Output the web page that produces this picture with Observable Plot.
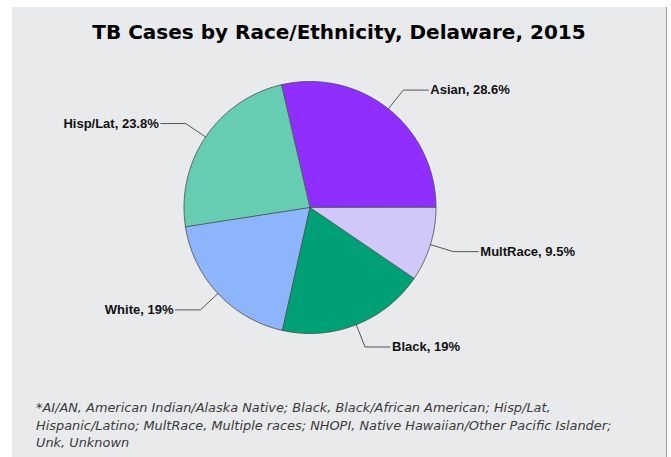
<!DOCTYPE html>
<html>
<head>
<meta charset="utf-8">
<script src="https://cdn.jsdelivr.net/npm/d3@7"></script>
<script src="https://cdn.jsdelivr.net/npm/@observablehq/plot@0.6"></script>
<style>
  body { margin:0; background:#fff; width:671px; height:457px; overflow:hidden; position:relative; }
  #panel { position:absolute; left:12px; top:7px; width:654px; height:460px; background:#e9eaec; border-right:1px solid #9a9a9a; }
  #title { position:absolute; left:12px; width:654px; top:20px; text-align:center; font-family:"DejaVu Sans", sans-serif; font-weight:bold; font-size:20px; color:#000; }
  #chart { position:absolute; left:0; top:60px; }
  #note { position:absolute; left:36px; top:399px; font-family:"DejaVu Sans",sans-serif; font-style:italic; font-size:12.9px; line-height:17.5px; color:#3a3a3a; white-space:nowrap; }
</style>
</head>
<body>
<div id="panel"></div>
<div id="title">TB Cases by Race/Ethnicity, Delaware, 2015</div>
<div id="chart"></div>
<div id="note">*AI/AN, American Indian/Alaska Native; Black, Black/African American; Hisp/Lat,<br>Hispanic/Latino; MultRace, Multiple races; NHOPI, Native Hawaiian/Other Pacific Islander;<br>Unk, Unknown</div>
<script>
const categories = ["Asian", "Hisp/Lat", "White", "Black", "MultRace"];
const percents = [28.6, 23.8, 19, 19, 9.5];
const labels = ["Asian, 28.6%", "Hisp/Lat, 23.8%", "White, 19%", "Black, 19%", "MultRace, 9.5%"];
const colors = ["#8f2eff", "#66cdb3", "#8db5fc", "#00a077", "#d0c8f8"];

const W = 671, H = 330, R = 126, CX = 309.5, CY = 147;
const total = d3.sum(percents);
let cum = 0;
const wedges = [], leaders = [], labelRows = [];
categories.forEach((cat, i) => {
  const a0 = cum / total * 2 * Math.PI;
  cum += percents[i];
  const a1 = cum / total * 2 * Math.PI;
  wedges.push({cat, x: 0, y: 0});
  const n = Math.max(2, Math.ceil((a1 - a0) / (Math.PI / 180)));
  for (let k = 0; k <= n; k++) {
    const a = a0 + (a1 - a0) * k / n;
    wedges.push({cat, x: Math.cos(a), y: Math.sin(a)});
  }
  const m = (a0 + a1) / 2;
  const side = Math.cos(m) >= 0 ? 1 : -1;
  const ex = 1.19 * Math.cos(m), ey = 1.19 * Math.sin(m);
  const hx = ex + side * 25 / R;
  leaders.push({cat, x: Math.cos(m), y: Math.sin(m)}, {cat, x: ex, y: ey}, {cat, x: hx, y: ey});
  labelRows.push({label: labels[i], x: hx, y: ey, side});
});

const textStyle = {fontSize: 13, fontWeight: "bold", fontFamily: "'Liberation Sans', Arial, sans-serif", fill: "#111"};
const plot = Plot.plot({
  width: W, height: H, margin: 0,
  x: {domain: [-CX / R, (W - CX) / R], axis: null},
  y: {domain: [-(H - CY) / R, CY / R], axis: null},
  color: {domain: categories, range: colors},
  style: {background: "transparent", overflow: "visible"},
  marks: [
    Plot.line(wedges, {x: "x", y: "y", z: "cat", fill: "cat", stroke: "#4a4a4a", strokeWidth: 0.8, curve: "linear-closed"}),
    Plot.line(leaders, {x: "x", y: "y", z: "cat", stroke: "#555", strokeWidth: 1}),
    Plot.text(labelRows.filter(d => d.side > 0), {x: "x", y: "y", text: "label", textAnchor: "start", dx: 2, ...textStyle}),
    Plot.text(labelRows.filter(d => d.side < 0), {x: "x", y: "y", text: "label", textAnchor: "end", dx: -2, ...textStyle})
  ]
});
document.getElementById("chart").appendChild(plot);
</script>
</body>
</html>
